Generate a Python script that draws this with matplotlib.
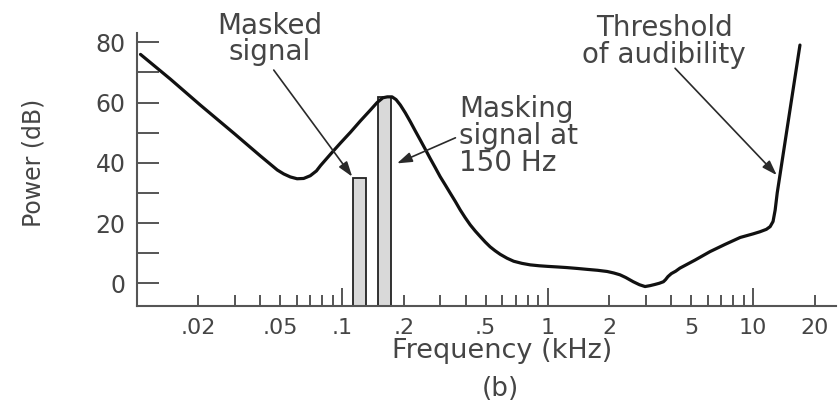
import math
import matplotlib
matplotlib.use("Agg")
import matplotlib.pyplot as plt
from matplotlib.ticker import FixedLocator, FuncFormatter

# Threshold of audibility in the presence of a 150 Hz masking tone
freq_khz = [0.01045, 0.0146, 0.0204, 0.0300, 0.0400, 0.0484, 0.0520, 0.0560,
            0.0604, 0.0650, 0.0700, 0.0750, 0.0786, 0.0879, 0.0983, 0.110,
            0.1227, 0.1372, 0.148, 0.158, 0.166, 0.175, 0.183, 0.192, 0.203,
            0.215, 0.227, 0.240, 0.254, 0.268, 0.284, 0.300, 0.318, 0.336,
            0.356, 0.376, 0.397, 0.420, 0.445, 0.470, 0.497, 0.525, 0.555,
            0.588, 0.635, 0.684, 0.750, 0.823, 0.910, 1.00, 1.12, 1.24, 1.40,
            1.56, 1.75, 1.95, 2.10, 2.25, 2.40, 2.61, 2.80, 2.98, 3.15, 3.33,
            3.50, 3.66, 3.75, 3.85, 4.00, 4.20, 4.40, 5.22, 6.17, 7.30, 8.65,
            10.0, 10.8, 11.6, 12.1, 12.5, 12.8, 13.1, 13.5, 15.1, 16.9]
threshold_db = [76.0, 67.8, 59.2, 49.6, 42.3, 37.6, 36.3, 35.3,
                34.7, 34.8, 35.7, 37.3, 39.1, 42.9, 46.6, 50.2,
                53.9, 57.5, 60.0, 61.6, 61.9, 61.9, 61.0, 59.2, 56.6,
                53.6, 50.6, 47.6, 44.5, 41.5, 38.4, 35.4, 32.6, 29.9,
                27.1, 24.3, 21.8, 19.4, 17.3, 15.5, 13.7, 12.1, 10.8,
                9.6, 8.3, 7.3, 6.6, 6.1, 5.8, 5.6, 5.4, 5.2, 4.9,
                4.6, 4.3, 3.9, 3.4, 2.8, 1.9, 0.5, -0.5, -1.1, -0.8, -0.4,
                0.0, 0.5, 1.2, 2.2, 3.2, 4.0, 5.0, 7.7, 10.5, 12.9, 15.2,
                16.4, 17.1, 17.9, 18.8, 20.5, 24.3, 30.0, 35.8, 57.4, 79.1]

# Tones: masked signal and masking signal (lower band edge, kHz) with levels
tone_freq_khz = [0.113, 0.150]
tone_level_db = [35, 62]

x_tick_values = [0.02, 0.05, 0.1, 0.2, 0.5, 1, 2, 5, 10, 20]
x_tick_labels = [".02", ".05", ".1", ".2", ".5", "1", "2", "5", "10", "20"]
y_tick_values = [0, 20, 40, 60, 80]

TEXT = "#454545"
AXIS = "#555555"
Y_FLOOR = -7.4

fig = plt.figure(figsize=(8.4, 4.03), dpi=100)
ax = fig.add_axes([0.1626, 0.2419, 0.8326, 0.6769])
ax.set_xscale("log")
ax.set_xlim(0.01, 25.3)
ax.set_ylim(Y_FLOOR, 83.2)

for side in ("top", "right"):
    ax.spines[side].set_visible(False)
for side in ("left", "bottom"):
    ax.spines[side].set_color(AXIS)
    ax.spines[side].set_linewidth(1.5)

# tone bars, one band wide on the log axis
band = 1.155
ax.bar(tone_freq_khz, [lv - Y_FLOOR for lv in tone_level_db],
       width=[f * (band - 1) for f in tone_freq_khz], bottom=Y_FLOOR,
       align="edge", color="#d9d9d9", edgecolor="#222222", linewidth=1.3,
       zorder=2)

ax.plot(freq_khz, threshold_db, color="#111111", linewidth=2.3,
        solid_joinstyle="round", solid_capstyle="round", zorder=3)

# x axis: decades get long ticks, everything else short ones
label_of = dict(zip(x_tick_values, x_tick_labels))
decades = [v for v in x_tick_values if abs(math.log10(v) - round(math.log10(v))) < 1e-9]
short_x = [k * 10.0 ** e for e in (-2, -1, 0, 1) for k in range(2, 10)]
short_x = [v for v in short_x if v < 25.3]


def x_label(v, pos):
    for key, text in label_of.items():
        if abs(v - key) < 1e-9 * max(1.0, key):
            return text
    return ""


ax.xaxis.set_major_locator(FixedLocator(decades))
ax.xaxis.set_major_formatter(FuncFormatter(x_label))
ax.xaxis.set_minor_locator(FixedLocator(short_x))
ax.xaxis.set_minor_formatter(FuncFormatter(x_label))
ax.tick_params(axis="x", which="major", direction="in", length=13, width=1.4,
               color=AXIS, labelcolor=TEXT, labelsize=16, pad=9)
ax.tick_params(axis="x", which="minor", direction="in", length=7.9, width=1.4,
               color=AXIS, labelcolor=TEXT, labelsize=16, pad=9)

# y axis ticks
ax.set_yticks(y_tick_values)
ax.yaxis.set_minor_locator(FixedLocator([10, 30, 50, 70]))
ax.tick_params(axis="y", which="both", direction="in", length=15.8, width=1.4,
               color=AXIS, labelcolor=TEXT, labelsize=17, pad=8)

ax.set_xlabel("Frequency (kHz)", fontsize=19.5, color=TEXT, va="center")
ax.xaxis.set_label_coords(0.522, -0.167)
ax.set_ylabel("Power (dB)", fontsize=17, color=TEXT, va="center")
ax.yaxis.set_label_coords(-0.148, 0.523)

fig.text(500 / 840, 1 - 389 / 403, "(b)", fontsize=19, color=TEXT,
         ha="center", va="center")

# annotations
ax.text(0.0443, 81.1, "Masked\nsignal", fontsize=20, color=TEXT,
        ha="center", va="center", linespacing=0.95)
ax.text(3.69, 80.4, "Threshold\nof audibility", fontsize=20, color=TEXT,
        ha="center", va="center", linespacing=0.95)
ax.text(0.3717, 48.9, "Masking\nsignal at\n150 Hz", fontsize=20, color=TEXT,
        ha="left", va="center", linespacing=0.95)

arrow = dict(arrowstyle="-|>,head_length=0.6,head_width=0.2",
             mutation_scale=15, color="#2a2a2a", linewidth=1.2,
             shrinkA=0, shrinkB=0)
ax.annotate("", xy=(0.112, 35.4), xytext=(0.0465, 70.8), arrowprops=arrow,
            zorder=4)
ax.annotate("", xy=(0.185, 39.8), xytext=(0.356, 48.3), arrowprops=arrow,
            zorder=4)
ax.annotate("", xy=(13.03, 35.9), xytext=(4.17, 71.4), arrowprops=arrow,
            zorder=4)

fig.savefig("out.png", dpi=100)
